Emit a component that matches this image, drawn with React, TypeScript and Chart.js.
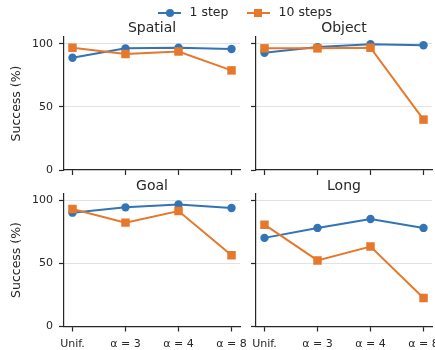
import React, { useEffect, useRef } from 'react';
import { Chart, registerables } from 'chart.js';

Chart.register(...registerables);

// ---------- data ----------
const categories = ['Unif.', 'α = 3', 'α = 4', 'α = 8'];
const seriesNames = ['1 step', '10 steps'];
const panelTitles = ['Spatial', 'Object', 'Goal', 'Long'];
const spatialOneStep = [89, 96.5, 97, 96];
const spatialTenSteps = [97, 92, 94, 79];
const objectOneStep = [93, 97.5, 99.8, 99];
const objectTenSteps = [96.5, 96.5, 97, 40];
const goalOneStep = [90.3, 94.5, 96.8, 94];
const goalTenSteps = [93.2, 82.4, 91.6, 56.6];
const longOneStep = [70.3, 78.2, 85.3, 78.2];
const longTenSteps = [80.8, 52.4, 63.4, 22.6];
const yTicks = [0, 50, 100];
const yLabel = 'Success (%)';

// ---------- style ----------
const FONT = "'DejaVu Sans', sans-serif";
const TEXT = '#262626';
const BLUE = '#3274b5';
const ORANGE = '#e6782c';
const GRID = '#e2e2e2';
const Y_MIN = 0;
const Y_MAX = 105.5;
const X_MIN = -0.16;
const X_MAX = 3.16;

type PanelSpec = {
  title: string;
  one: number[];
  ten: number[];
  left: number;
  top: number;
  width: number;
  height: number;
  leftCol: boolean;
  bottomRow: boolean;
};

const panels: PanelSpec[] = [
  { title: panelTitles[0], one: spatialOneStep, ten: spatialTenSteps, left: 0, top: 0, width: 250, height: 180, leftCol: true, bottomRow: false },
  { title: panelTitles[1], one: objectOneStep, ten: objectTenSteps, left: 246, top: 0, width: 189, height: 180, leftCol: false, bottomRow: false },
  { title: panelTitles[2], one: goalOneStep, ten: goalTenSteps, left: 0, top: 176, width: 250, height: 174, leftCol: true, bottomRow: true },
  { title: panelTitles[3], one: longOneStep, ten: longTenSteps, left: 246, top: 176, width: 189, height: 174, leftCol: false, bottomRow: true },
];

function Panel({ spec }: { spec: PanelSpec }) {
  const ref = useRef<HTMLCanvasElement | null>(null);
  useEffect(() => {
    if (!ref.current) return;
    const s = spec;
    const chart = new Chart(ref.current, {
      type: 'line',
      data: {
        datasets: [
          {
            label: seriesNames[0],
            data: s.one.map((y, i) => ({ x: i, y })),
            borderColor: BLUE,
            backgroundColor: BLUE,
            borderWidth: 2,
            pointStyle: 'circle',
            pointRadius: 4.2,
            pointBorderWidth: 0,
            order: 2,
          },
          {
            label: seriesNames[1],
            data: s.ten.map((y, i) => ({ x: i, y })),
            borderColor: ORANGE,
            backgroundColor: ORANGE,
            borderWidth: 2,
            pointStyle: 'rect',
            pointRadius: 6,
            pointBorderWidth: 0,
            order: 1,
          },
        ],
      },
      options: {
        animation: false,
        responsive: false,
        devicePixelRatio: 1,
        layout: {
          autoPadding: false,
          padding: { left: 0, top: 0, right: s.leftCol ? 10 : 3, bottom: 0 },
        },
        plugins: {
          legend: { display: false },
          tooltip: { enabled: false },
          title: {
            display: true,
            text: s.title,
            fullSize: false,
            color: TEXT,
            font: { family: FONT, size: 14, weight: 'normal', lineHeight: 1 },
            padding: s.bottomRow ? { top: 3.5, bottom: 0 } : { top: 21, bottom: 2 },
          },
        },
        scales: {
          x: {
            type: 'linear',
            min: X_MIN,
            max: X_MAX,
            afterBuildTicks: (sc: any) => {
              sc.ticks = categories.map((_, i) => ({ value: i }));
            },
            ticks: {
              display: s.bottomRow,
              autoSkip: false,
              maxRotation: 0,
              minRotation: 0,
              padding: 6,
              color: TEXT,
              font: { family: FONT, size: 11 },
              callback: (v: any) => categories[Math.round(Number(v))] ?? '',
            },
            grid: {
              drawOnChartArea: false,
              drawTicks: true,
              tickLength: 5,
              tickColor: TEXT,
              tickWidth: 1.2,
            },
            border: { display: true, color: TEXT, width: 1.2 },
            afterFit: (sc: any) => {
              sc.height = s.bottomRow ? 23.5 : 10;
              sc.paddingLeft = 0;
              sc.paddingRight = 0;
            },
          },
          y: {
            type: 'linear',
            min: Y_MIN,
            max: Y_MAX,
            afterBuildTicks: (sc: any) => {
              sc.ticks = yTicks.map((v) => ({ value: v }));
            },
            ticks: {
              display: s.leftCol,
              padding: 6,
              color: TEXT,
              font: { family: FONT, size: 11 },
            },
            grid: {
              color: (ctx: any) => (ctx.tick && ctx.tick.value === 0 ? 'rgba(0,0,0,0)' : GRID),
              lineWidth: 1,
              drawTicks: true,
              tickLength: 5,
              tickColor: TEXT,
              tickWidth: 1.2,
            },
            border: { display: true, color: TEXT, width: 1.2 },
            title: {
              display: s.leftCol,
              text: yLabel,
              color: TEXT,
              font: { family: FONT, size: 12.5 },
              padding: { top: 9, bottom: 0 },
            },
            afterFit: (sc: any) => {
              sc.width = s.leftCol ? 64 : 10;
              sc.paddingTop = 0;
              sc.paddingBottom = 0;
            },
          },
        },
      } as any,
    });
    return () => chart.destroy();
  }, [spec]);

  return (
    <canvas
      ref={ref}
      width={spec.width}
      height={spec.height}
      style={{ position: 'absolute', left: spec.left, top: spec.top, width: spec.width, height: spec.height }}
    />
  );
}

function LegendItem({ name, color, marker, lineLeft, textLeft }: { name: string; color: string; marker: 'circle' | 'square'; lineLeft: number; textLeft: number }) {
  const cy = 12.5;
  return (
    <>
      <div style={{ position: 'absolute', left: lineLeft, top: cy - 1, width: 23, height: 2, background: color }} />
      <div
        style={{
          position: 'absolute',
          left: lineLeft + 11.5 - 4,
          top: cy - 4,
          width: 8,
          height: 8,
          background: color,
          borderRadius: marker === 'circle' ? '50%' : 0,
        }}
      />
      <span
        style={{
          position: 'absolute',
          left: textLeft,
          top: 0,
          lineHeight: '24px',
          fontSize: 12.5,
          fontFamily: FONT,
          color: TEXT,
          whiteSpace: 'nowrap',
        }}
      >
        {name}
      </span>
    </>
  );
}

export default function App() {
  return (
    <div style={{ position: 'fixed', left: 0, top: 0, width: 435, height: 350, overflow: 'hidden', background: '#fff' }}>
      {panels.map((p) => (
        <Panel key={p.title} spec={p} />
      ))}
      <LegendItem name={seriesNames[0]} color={BLUE} marker="circle" lineLeft={158} textLeft={189.5} />
      <LegendItem name={seriesNames[1]} color={ORANGE} marker="square" lineLeft={246.5} textLeft={278.5} />
    </div>
  );
}
